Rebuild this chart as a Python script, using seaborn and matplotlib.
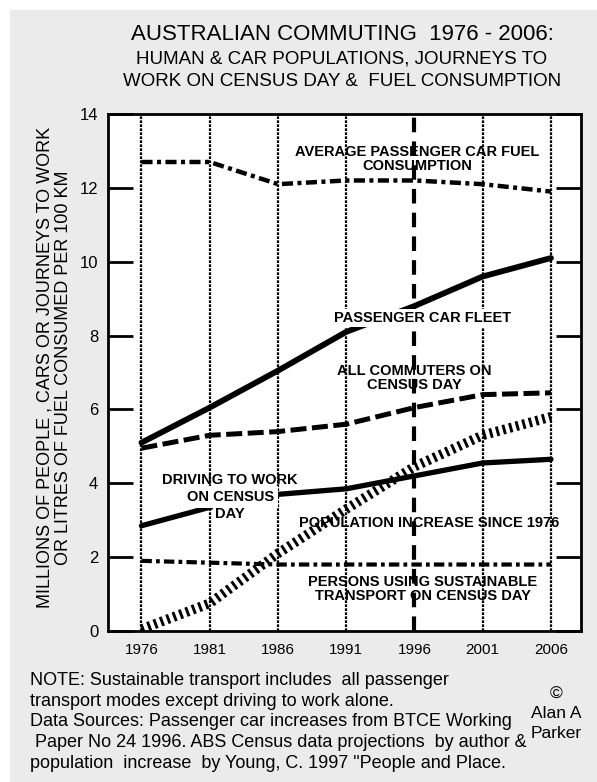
import numpy as np
import pandas as pd
import matplotlib
matplotlib.use('Agg')
import matplotlib.pyplot as plt
import seaborn as sns
from matplotlib.patches import Rectangle

years = [1976, 1981, 1986, 1991, 1996, 2001, 2006]
fuel_consumption = [12.7, 12.7, 12.1, 12.2, 12.2, 12.1, 11.9]
car_fleet = [5.1, 6.05, 7.05, 8.1, 8.8, 9.6, 10.1]
all_commuters = [4.95, 5.3, 5.4, 5.6, 6.05, 6.4, 6.45]
driving_to_work = [2.85, 3.35, 3.7, 3.85, 4.2, 4.55, 4.65]
population_increase = [0.05, 0.75, 2.1, 3.3, 4.45, 5.3, 5.8]
sustainable_transport = [1.9, 1.85, 1.8, 1.8, 1.8, 1.8, 1.8]
y_ticks = [0, 2, 4, 6, 8, 10, 12, 14]

sns.set_style('white')
plain = ['Liberation Sans', 'DejaVu Sans']
plt.rcParams['font.family'] = plain
plt.rcParams['text.color'] = 'black'
plt.rcParams['axes.labelcolor'] = 'black'

fig = plt.figure(figsize=(5.97, 7.82), dpi=100, facecolor='#ebebeb')
# white strip along top and left edge of the scanned image
fig.patches.append(Rectangle((0, 1 - 10 / 782), 1, 10 / 782, transform=fig.transFigure,
                             facecolor='white', edgecolor='none', zorder=0))
fig.patches.append(Rectangle((0, 0), 10 / 597, 1, transform=fig.transFigure,
                             facecolor='white', edgecolor='none', zorder=0))

ax = fig.add_axes([108 / 597, 151 / 782, 473 / 597, 517 / 782])
ax.set_facecolor('white')

# vertical census-year grid
for yr in years:
    if yr == 1996:
        ax.axvline(yr, color='black', lw=3, linestyle=(0, (3.5, 2.2)), zorder=1)
    else:
        ax.axvline(yr, color='black', lw=1.6, linestyle=(0, (1.2, 0.6)), zorder=1)

series = [
    (fuel_consumption, 3.2, (0, (2.5, 1.0, 0.9, 1.0))),
    (car_fleet, 4.2, '-'),
    (all_commuters, 3.6, (0, (3.2, 1.1))),
    (driving_to_work, 3.8, '-'),
    (population_increase, 7.0, (0, (0.3, 0.4))),
    (sustainable_transport, 3.0, (0, (2.5, 1.0, 0.9, 1.0))),
]
for vals, lw, ls in series:
    df = pd.DataFrame({'year': years, 'value': vals})
    sns.lineplot(data=df, x='year', y='value', ax=ax, color='black', lw=lw,
                 linestyle=ls, zorder=3)

lab = dict(fontweight='bold', fontsize=10.5, ha='center', va='center',
           linespacing=1.05, zorder=5, color='black')
box = dict(facecolor='white', edgecolor='none', pad=1.5)
ax.text(1996.2, 12.78, 'AVERAGE PASSENGER CAR FUEL\nCONSUMPTION', **lab)
ax.text(1996.6, 8.48, 'PASSENGER CAR FLEET', bbox=box, **lab)
ax.text(1996.0, 6.85, 'ALL COMMUTERS ON\nCENSUS DAY', **lab)
ax.text(1982.5, 4.1, 'DRIVING TO WORK', **lab)
ax.text(1982.5, 3.63, 'ON CENSUS', bbox=dict(facecolor='white', edgecolor='none', pad=3), **lab)
ax.text(1982.5, 3.17, 'DAY', bbox=dict(facecolor='white', edgecolor='none', pad=2), **lab)
ax.text(1997.1, 2.92, 'POPULATION INCREASE SINCE 1976', **lab)
ax.text(1996.6, 1.14, 'PERSONS USING SUSTAINABLE\nTRANSPORT ON CENSUS DAY', **lab)

ax.set_xlim(1973.55, 2008.2)
ax.set_ylim(0, 14)
ax.set_xticks(years)
ax.set_yticks(y_ticks)
ax.set_xticklabels([str(y) for y in years], fontsize=11)
ax.set_yticklabels([str(y) for y in y_ticks], fontsize=12)
ax.tick_params(axis='x', length=0, pad=9, labelcolor='black')
ax.tick_params(axis='y', direction='in', length=18, width=2, pad=7,
               left=True, right=True, colors='black')
for sp in ax.spines.values():
    sp.set_visible(True)
    sp.set_color('black')
    sp.set_linewidth(2)
ax.set_xlabel('')
ax.set_ylabel('MILLIONS OF PEOPLE , CARS OR JOURNEYS TO WORK\nOR LITRES OF FUEL CONSUMED PER 100 KM',
              fontsize=13, linespacing=1.1)
ax.yaxis.set_label_coords(-0.076, 0.51)

fig.text(342 / 597, 1 - 35 / 782, 'AUSTRALIAN COMMUTING  1976 - 2006:', fontsize=16,
         ha='center', va='center')
fig.text(342 / 597, 1 - 70.5 / 782,
         'HUMAN & CAR POPULATIONS, JOURNEYS TO\nWORK ON CENSUS DAY &  FUEL CONSUMPTION',
         fontsize=13.5, ha='center', va='center', linespacing=1.4)

notes = ('NOTE: Sustainable transport includes  all passenger\n'
         'transport modes except driving to work alone.\n'
         'Data Sources: Passenger car increases from BTCE Working\n'
         ' Paper No 24 1996. ABS Census data projections  by author &\n'
         'population  increase  by Young, C. 1997 "People and Place.')
fig.text(30 / 597, 1 - 722 / 782, notes, fontsize=13, ha='left', va='center',
         linespacing=1.3)
fig.text(556 / 597, 1 - 714 / 782, '©\nAlan A\nParker', fontsize=12.5, ha='center',
         va='center', linespacing=1.35)

fig.savefig('out.png', dpi=100, facecolor=fig.get_facecolor())
